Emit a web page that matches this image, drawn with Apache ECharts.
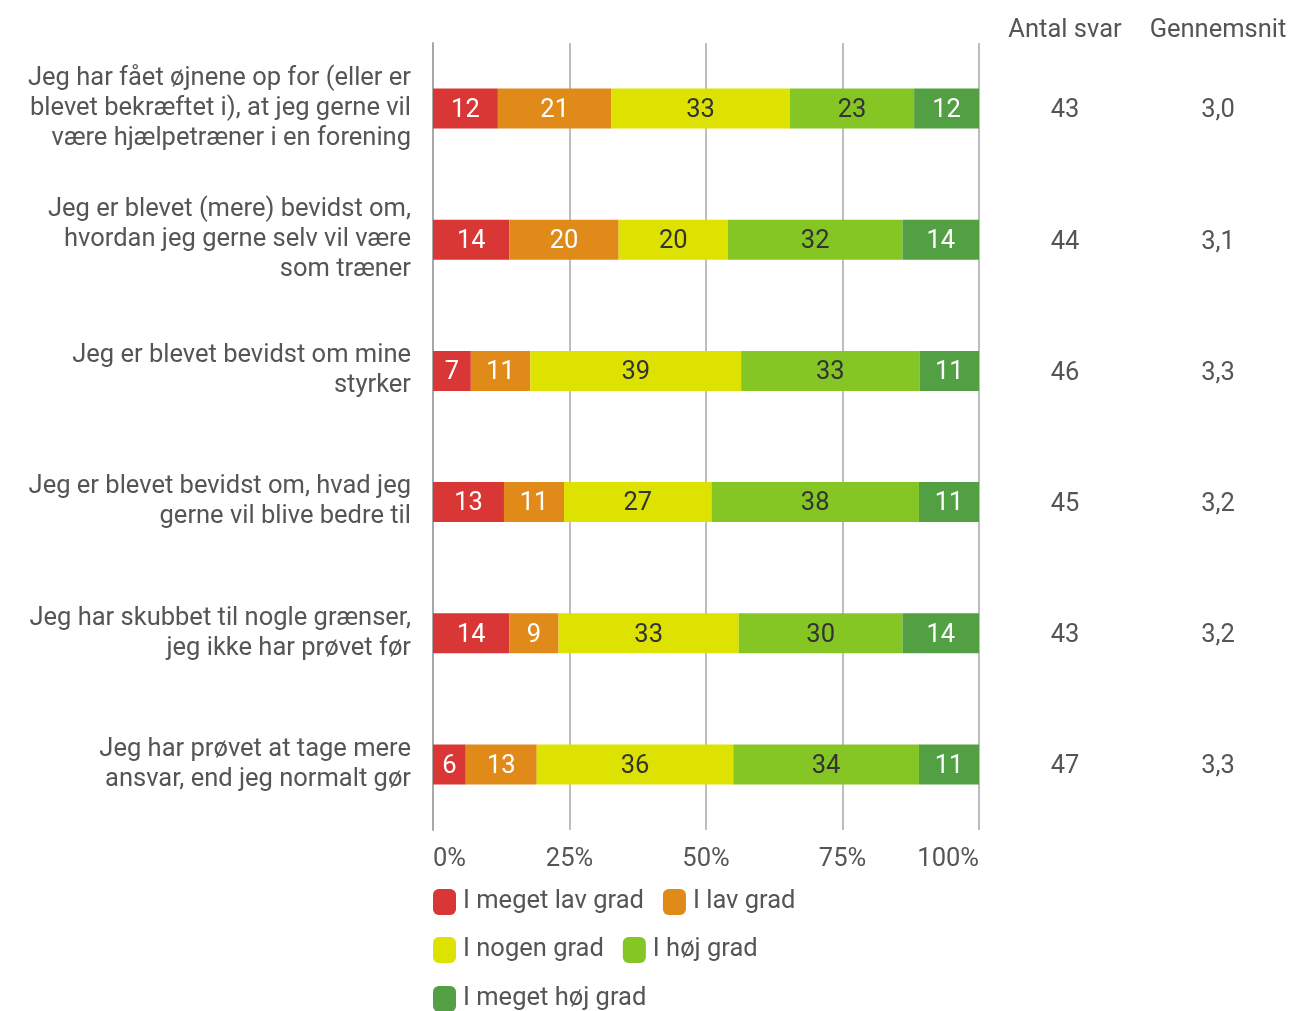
<!DOCTYPE html>
<html>
<head>
<meta charset="utf-8">
<script src="https://cdn.jsdelivr.net/npm/echarts@6/dist/echarts.min.js"></script>
<style>html,body{margin:0;padding:0;background:#fff}#c{width:1292px;height:1011px}</style>
</head>
<body>
<div id="c"></div>
<script>
var categories = [
  'Jeg har fået øjnene op for (eller er\nblevet bekræftet i), at jeg gerne vil\nvære hjælpetræner i en forening',
  'Jeg er blevet (mere) bevidst om,\nhvordan jeg gerne selv vil være\nsom træner',
  'Jeg er blevet bevidst om mine\nstyrker',
  'Jeg er blevet bevidst om, hvad jeg\ngerne vil blive bedre til',
  'Jeg har skubbet til nogle grænser,\njeg ikke har prøvet før',
  'Jeg har prøvet at tage mere\nansvar, end jeg normalt gør'
];
var seriesNames = ['I meget lav grad', 'I lav grad', 'I nogen grad', 'I høj grad', 'I meget høj grad'];
var megetLav = [12, 14, 7, 13, 14, 6];
var lav = [21, 20, 11, 11, 9, 13];
var nogen = [33, 20, 39, 27, 33, 36];
var hoj = [23, 32, 33, 38, 30, 34];
var megetHoj = [12, 14, 11, 11, 14, 11];
var antalSvar = [43, 44, 46, 45, 43, 47];
var gennemsnit = ['3,0', '3,1', '3,3', '3,2', '3,2', '3,3'];
var xTicks = [0, 25, 50, 75, 100];

var colors = ['#d93636', '#e08a1a', '#dde200', '#85c625', '#52a043'];
var labelColors = ['#ffffff', '#ffffff', '#333333', '#333333', '#ffffff'];
var allValues = [megetLav, lav, nogen, hoj, megetHoj];
var FONT = 'Roboto';
var FS = 25.5;
var TXT = '#555555';

var rowSums = categories.map(function (c, i) {
  return allValues.reduce(function (s, arr) { return s + arr[i]; }, 0);
});

var series = allValues.map(function (arr, k) {
  return {
    name: seriesNames[k],
    type: 'bar',
    stack: 'total',
    barWidth: 40,
    itemStyle: { color: colors[k] },
    label: {
      show: true,
      position: 'inside',
      offset: [0, 2],
      fontFamily: FONT,
      fontSize: FS,
      color: labelColors[k],
      formatter: function (p) { return arr[p.dataIndex]; }
    },
    data: arr.map(function (v, i) { return v / rowSums[i] * 100; })
  };
});

function legendCfg(items, top) {
  return {
    data: items,
    left: 433,
    top: top,
    orient: 'horizontal',
    icon: 'roundRect',
    itemWidth: 23,
    itemHeight: 26,
    itemGap: 19,
    textStyle: { fontFamily: FONT, fontSize: FS, color: TXT, padding: [4, 0, 0, 2] },
    padding: 0
  };
}

var chart = echarts.init(document.getElementById('c'));
chart.setOption({
  animation: false,
  backgroundColor: '#fff',
  grid: { left: 433, right: 1292 - 979, top: 43, bottom: 1011 - 830, containLabel: false },
  xAxis: {
    type: 'value',
    min: xTicks[0],
    max: xTicks[xTicks.length - 1],
    interval: 25,
    axisLine: { show: false },
    axisTick: { show: false },
    splitLine: { show: true, lineStyle: { color: '#bdbdbd', width: 2 } },
    axisLabel: {
      formatter: '{value}%',
      fontFamily: FONT, fontSize: FS, color: TXT, margin: 17,
      alignMinLabel: 'left', alignMaxLabel: 'right'
    }
  },
  yAxis: [{
    type: 'category',
    data: categories,
    inverse: true,
    axisLine: { show: true, lineStyle: { color: '#a8a8a8', width: 2 } },
    axisTick: { show: false },
    axisLabel: { fontFamily: FONT, fontSize: FS, color: TXT, lineHeight: 30, margin: 22, align: 'right', padding: [5, 0, 0, 0] }
  }, {
    type: 'category',
    data: categories,
    inverse: true,
    position: 'right',
    axisLine: { show: false },
    axisTick: { show: false },
    axisLabel: {
      margin: 21,
      padding: [5, 0, 0, 0],
      formatter: function (v, i) { return '{a|' + antalSvar[i] + '}{b|' + gennemsnit[i] + '}'; },
      rich: {
        a: { width: 130, align: 'center', fontFamily: FONT, fontSize: FS, color: TXT },
        b: { width: 176, align: 'center', fontFamily: FONT, fontSize: FS, color: TXT }
      }
    }
  }],
  legend: [
    legendCfg([seriesNames[0], seriesNames[1]], 889),
    legendCfg([seriesNames[2], seriesNames[3]], 937),
    legendCfg([seriesNames[4]], 986)
  ],
  graphic: [
    { type: 'text', x: 1065, y: 31, style: { text: 'Antal svar', fontFamily: FONT, fontSize: FS, fill: TXT, align: 'center', verticalAlign: 'middle' } },
    { type: 'text', x: 1218, y: 31, style: { text: 'Gennemsnit', fontFamily: FONT, fontSize: FS, fill: TXT, align: 'center', verticalAlign: 'middle' } }
  ],
  series: series
});
</script>
</body>
</html>
